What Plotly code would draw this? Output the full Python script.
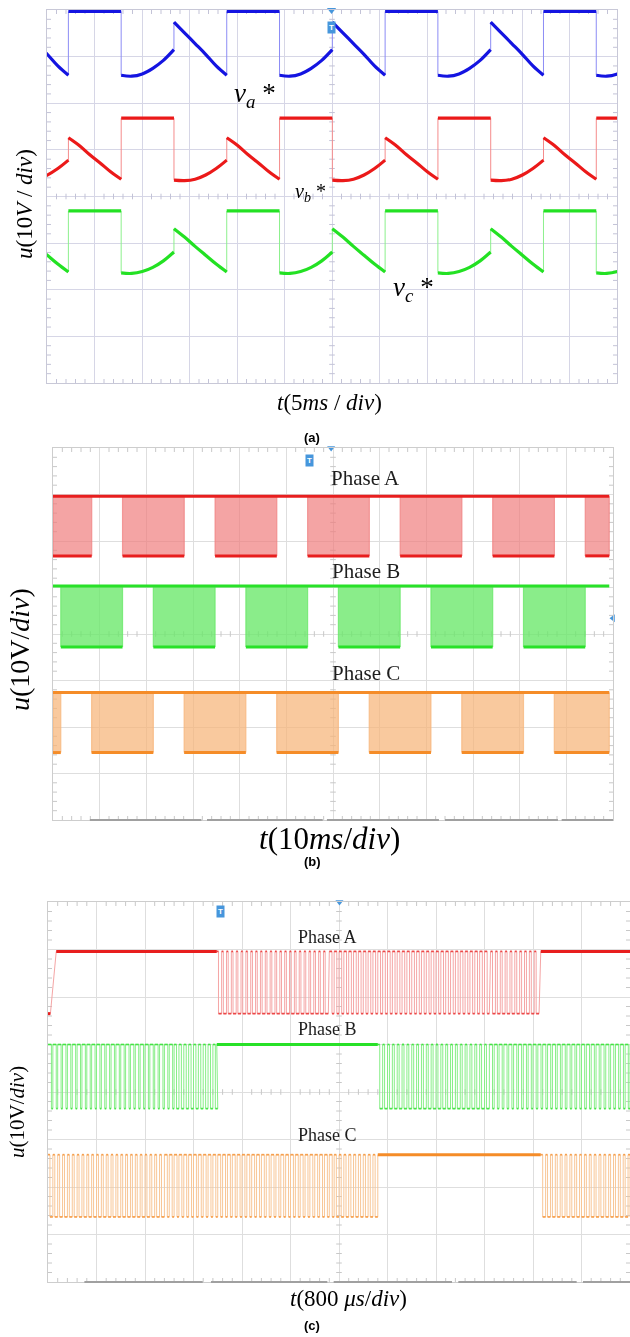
import plotly.graph_objects as go

W, H = 630, 1337
SERIF = "Liberation Serif, Times New Roman, serif"
SANS = "Liberation Sans, Arial, sans-serif"
TAG_BLUE = "rgb(70,150,220)"

# ---------------- (a) reference voltages, 5 ms/div ----------------
A_PERIOD_MS = 16.67
A_TOP_START_MS = [2.25, 7.81, 2.25]          # start of flat-top segment
A_TOP_LEVEL = [7.97, 5.68, 3.69]             # div
A_U = [0.0, 0.2, 0.4, 0.6, 0.8, 1.0]         # position inside a 120° segment
A_RISE = [[-1.37, -1.39, -1.34, -1.22, -1.05, -0.82],
          [-1.33, -1.34, -1.31, -1.22, -1.08, -0.90],
          [-1.33, -1.34, -1.30, -1.21, -1.07, -0.88]]
A_DECAY = [[-0.23, -0.46, -0.69, -0.92, -1.17, -1.37],
           [-0.42, -0.58, -0.78, -0.96, -1.15, -1.31],
           [-0.38, -0.56, -0.76, -0.95, -1.14, -1.31]]
A_COLORS = ["rgb(20,20,225)", "rgb(235,25,25)", "rgb(35,225,35)"]
A_EDGE = ["rgb(140,140,245)", "rgb(245,140,140)", "rgb(140,240,140)"]
A_LABELS = ["<i>v</i><sub><i>a</i></sub> *", "<i>v</i><sub><i>b</i></sub> *",
            "<i>v</i><sub><i>c</i></sub> *"]
A_LABEL_X_MS = [21.9, 27.7, 38.55]
A_LABEL_Y = [6.18, 4.09, 2.01]
A_LABEL_SIZE = [27, 20, 27]
A_TAGS = ["1", "2", "3"]
A_TAG_Y = [5.12, 3.13, 1.10]

# ---------------- (b) gate signals, 10 ms/div ----------------
B_PERIOD_MS = 19.83
B_GAP_START_MS = [8.3, 14.9, 21.5]
B_GAP_LEN_MS = 6.6
B_END_MS = 119.2
B_TOP = [6.96, 5.03, 2.74]
B_BOTTOM = [5.68, 3.72, 1.45]
B_LINE = ["rgb(232,30,30)", "rgb(40,225,40)", "rgb(245,140,40)"]
B_FILL = ["rgba(240,125,125,0.70)", "rgba(105,232,105,0.78)", "rgba(246,180,120,0.72)"]
B_PHASES = ["Phase A", "Phase B", "Phase C"]
B_PHASE_Y = [7.35, 5.35, 3.16]
B_TAGS = ["2", "3", "4"]
B_BAR = [(0.79, 3.18), (3.30, 5.78), (5.87, 8.27), (8.40, 10.82), (10.90, 12.0)]

# ---------------- (c) gate signals, 800 us/div ----------------
C_CARRIER_US = 80
C_END_US = 9700
C_TOP = [6.96, 5.00, 2.68]
C_BOTTOM = [5.65, 3.65, 1.37]
C_FLAT = [[(136, 2784), (8128, 9700)], [(2784, 5440)], [(5440, 8128)]]
C_PWM = [[(2784, 4640, 0.35), (4640, 7300, 0.55), (7300, 8128, 0.40)],
         [(0, 2080, 0.70), (2080, 2784, 0.50), (5440, 7280, 0.40), (7280, 9700, 0.65)],
         [(0, 1920, 0.40), (1920, 4720, 0.60), (4720, 5440, 0.45), (8128, 9700, 0.40)]]
C_RED_START_T = [0, 40, 136]
C_PALE = ["rgb(245,165,165)", "rgb(135,238,135)", "rgb(248,198,150)"]
C_PHASE_Y = [7.27, 5.33, 3.09]
C_TAGS = ["2", "3", "4"]
C_BAR = [(0.75, 3.19), (3.36, 5.76), (5.89, 8.33), (8.46, 10.90), (11.03, 12.0)]

# panel geometry (pixels) -> domains
PANELS = {
    "a": dict(x0=47, x1=617, y0=10, y1=383, xmax=60, dtick=5),
    "b": dict(x0=53, x1=613, y0=448, y1=820, xmax=120, dtick=10),
    "c": dict(x0=48, x1=630, y0=902, y1=1282, xmax=9600, dtick=800),
}
AX = {"a": ("x", "y"), "b": ("x2", "y2"), "c": ("x3", "y3")}

fig = go.Figure()


def osc_ticks(key, color):
    p = PANELS[key]
    xmax = p["xmax"]
    lx = 4.0 * xmax / (p["x1"] - p["x0"])
    ly = 4.0 * 8 / (p["y1"] - p["y0"])
    xs, ys = [], []
    for i in range(12 * 5 + 1):
        if i % 5 == 0:
            continue
        x = i * xmax / 60.0
        xs += [x, x, None, x, x, None, x, x, None]
        ys += [0, ly, None, 8, 8 - ly, None, 4 - 0.7 * ly, 4 + 0.7 * ly, None]
    for j in range(8 * 5 + 1):
        if j % 5 == 0:
            continue
        y = j * 0.2
        xs += [0, lx, None, xmax, xmax - lx, None, xmax / 2 - 0.7 * lx, xmax / 2 + 0.7 * lx, None]
        ys += [y, y, None, y, y, None, y, y, None]
    xa, ya = AX[key]
    fig.add_trace(go.Scatter(x=xs, y=ys, mode="lines", xaxis=xa, yaxis=ya,
                             line=dict(color=color, width=1), hoverinfo="skip"))


osc_ticks("a", "rgb(195,195,215)")
osc_ticks("b", "rgb(200,200,200)")
osc_ticks("c", "rgb(200,200,200)")

# ---------- panel (a) traces ----------
S = A_PERIOD_MS / 3.0
for i in range(3):
    pieces = []
    for k in range(-2, 5):
        t = A_TOP_START_MS[i] + k * A_PERIOD_MS
        top = A_TOP_LEVEL[i]
        pieces.append(([t, t + S], [top, top]))
        pieces.append(([t + S + u * S for u in A_U], [top + v for v in A_RISE[i]]))
        pieces.append(([t + 2 * S + u * S for u in A_U], [top + v for v in A_DECAY[i]]))
    xs, ys, ex, ey = [], [], [], []
    for n, (px, py) in enumerate(pieces):
        xs += px + [None]
        ys += py + [None]
        if n > 0:
            prev = pieces[n - 1]
            ex += [px[0], px[0], None]
            ey += [prev[1][-1], py[0], None]
    fig.add_trace(go.Scatter(x=ex, y=ey, mode="lines", xaxis="x", yaxis="y",
                             line=dict(color=A_EDGE[i], width=1), hoverinfo="skip"))
    fig.add_trace(go.Scatter(x=xs, y=ys, mode="lines", xaxis="x", yaxis="y",
                             line=dict(color=A_COLORS[i], width=3.2, shape="spline"),
                             hoverinfo="skip"))

# ---------- panel (b) traces ----------
def blocks(gs, gl, P, end):
    gaps = sorted([(gs + k * P, gs + k * P + gl) for k in range(-3, 10)])
    out, cur = [], 0.0
    for a, b in gaps:
        if b <= 0 or a >= end:
            continue
        if a > cur:
            out.append((cur, min(a, end)))
        cur = max(cur, b)
    if cur < end:
        out.append((cur, end))
    return out


for i in range(3):
    blk = blocks(B_GAP_START_MS[i], B_GAP_LEN_MS, B_PERIOD_MS, B_END_MS)
    top, bot = B_TOP[i], B_BOTTOM[i]
    fx, fy, bx, by, vx, vy = [], [], [], [], [], []
    for a, b in blk:
        fx += [a, a, b, b, a, None]
        fy += [bot, top, top, bot, bot, None]
        bx += [a, b, None]
        by += [bot, bot, None]
        vx += [a, a, None, b, b, None]
        vy += [bot, top, None, bot, top, None]
    fig.add_trace(go.Scatter(x=fx, y=fy, mode="lines", fill="toself", xaxis="x2", yaxis="y2",
                             fillcolor=B_FILL[i], line=dict(width=0), hoverinfo="skip"))
    fig.add_trace(go.Scatter(x=vx, y=vy, mode="lines", xaxis="x2", yaxis="y2",
                             line=dict(color=B_FILL[i], width=1.2), hoverinfo="skip"))
    fig.add_trace(go.Scatter(x=[0, B_END_MS], y=[top, top], mode="lines", xaxis="x2", yaxis="y2",
                             line=dict(color=B_LINE[i], width=3), hoverinfo="skip"))
    fig.add_trace(go.Scatter(x=bx, y=by, mode="lines", xaxis="x2", yaxis="y2",
                             line=dict(color=B_LINE[i], width=3), hoverinfo="skip"))

# ---------- panel (c) traces ----------
for i in range(3):
    top, bot = C_TOP[i], C_BOTTOM[i]
    segs = [(a, b, "flat", 1.0) for a, b in C_FLAT[i]] + [(a, b, "pwm", d) for a, b, d in C_PWM[i]]
    segs.sort()
    xs, ys = [], []
    hx, hy = [], []   # bright horizontal dots (PWM)
    fx, fy = [], []   # flat parts
    if i == 0:
        xs += C_RED_START_T
        ys += [bot, bot, top]
        fx += [C_RED_START_T[0], C_RED_START_T[1], None]
        fy += [bot, bot, None]
    for a, b, kind, d in segs:
        if kind == "flat":
            xs += [a, b]
            ys += [top, top]
            fx += [a, b, None]
            fy += [top, top, None]
        else:
            n = int(round((b - a) / C_CARRIER_US))
            for m in range(n):
                t = a + m * C_CARRIER_US
                th = t + d * C_CARRIER_US
                te = t + C_CARRIER_US
                xs += [t, th, th, te]
                ys += [top, top, bot, bot]
                hx += [t, th, None, th, te, None]
                hy += [top, top, None, bot, bot, None]
    fig.add_trace(go.Scatter(x=xs, y=ys, mode="lines", xaxis="x3", yaxis="y3",
                             line=dict(color=C_PALE[i], width=1), hoverinfo="skip"))
    fig.add_trace(go.Scatter(x=hx, y=hy, mode="lines", xaxis="x3", yaxis="y3",
                             line=dict(color=B_LINE[i], width=1.8), opacity=0.7, hoverinfo="skip"))
    fig.add_trace(go.Scatter(x=fx, y=fy, mode="lines", xaxis="x3", yaxis="y3",
                             line=dict(color=B_LINE[i], width=3), hoverinfo="skip"))

# ---------- marker glyphs (triggers) ----------
fig.add_trace(go.Scatter(x=[29.95], y=[8.0], mode="markers", xaxis="x", yaxis="y", cliponaxis=False,
                         marker=dict(symbol="triangle-down", size=8, color=TAG_BLUE), hoverinfo="skip"))
fig.add_trace(go.Scatter(x=[59.6, 120], y=[8.0, 4.34], mode="markers", xaxis="x2", yaxis="y2",
                         cliponaxis=False,
                         marker=dict(symbol=["triangle-down", "triangle-left"], size=7, color=TAG_BLUE),
                         hoverinfo="skip"))
fig.add_trace(go.Scatter(x=[4808], y=[8.0], mode="markers", xaxis="x3", yaxis="y3", cliponaxis=False,
                         marker=dict(symbol="triangle-down", size=7, color=TAG_BLUE), hoverinfo="skip"))

# ---------- layout ----------
def axis(dom, rng, dtick, gridc, linec, anchor):
    return dict(domain=dom, range=rng, dtick=dtick, tick0=0, showgrid=True, gridcolor=gridc,
                gridwidth=1, zeroline=False, showticklabels=False, ticks="", showline=True,
                linecolor=linec, linewidth=1, mirror=True, anchor=anchor, fixedrange=True)


lay = {}
for key, (xa, ya) in AX.items():
    p = PANELS[key]
    xd = [p["x0"] / W, min(p["x1"] / W, 1.0)]
    yd = [1 - p["y1"] / H, 1 - p["y0"] / H]
    gc = "rgb(214,214,230)" if key == "a" else "rgb(222,222,222)"
    lc = "rgb(200,200,215)" if key == "a" else "rgb(205,205,205)"
    xname = "xaxis" if xa == "x" else "xaxis" + xa[1:]
    yname = "yaxis" if ya == "y" else "yaxis" + ya[1:]
    lay[xname] = axis(xd, [0, p["xmax"]], p["dtick"], gc, lc, ya)
    lay[yname] = axis(yd, [0, 8], 1, gc, lc, xa)

ann = []


def paper_text(x, y, text, size, font=SERIF, angle=0, color="black"):
    ann.append(dict(xref="paper", yref="paper", x=x / W, y=1 - y / H, text=text, showarrow=False,
                    font=dict(family=font, size=size, color=color), textangle=angle,
                    xanchor="center", yanchor="middle"))


def tag(xa, ya, x, y, text, color, size=8):
    ann.append(dict(xref=xa, yref=ya, x=x, y=y, text="<b>%s</b>" % text, showarrow=False,
                    bgcolor=color, borderpad=1, font=dict(family=SANS, size=size, color="white"),
                    xanchor="center", yanchor="middle"))


# titles
paper_text(25, 204, "<i>u</i>(10<i>V</i> / <i>div</i>)", 23, angle=-90)
paper_text(329, 403, "<i>t</i>(5<i>ms</i> / <i>div</i>)", 23)
paper_text(312, 437, "<b>(a)</b>", 13, font=SANS)
paper_text(20, 650, "<i>u</i>(10V/<i>div</i>)", 28, angle=-90)
paper_text(329, 838, "<i>t</i>(10<i>ms</i>/<i>div</i>)", 31)
paper_text(312, 861, "<b>(b)</b>", 13, font=SANS)
paper_text(17, 1112, "<i>u</i>(10V/<i>div</i>)", 21, angle=-90)
paper_text(348, 1298, "<i>t</i>(800 <i>μs</i>/<i>div</i>)", 23)
paper_text(312, 1325, "<b>(c)</b>", 13, font=SANS)

# panel (a) labels and channel tags
for i in range(3):
    ann.append(dict(xref="x", yref="y", x=A_LABEL_X_MS[i], y=A_LABEL_Y[i], text=A_LABELS[i],
                    showarrow=False, font=dict(family=SERIF, size=A_LABEL_SIZE[i], color="black")))
    tag("x", "y", -0.9, A_TAG_Y[i], A_TAGS[i], A_COLORS[i])
tag("x", "y", 29.95, 7.62, "T", TAG_BLUE)

# panel (b) labels and tags
for i in range(3):
    ann.append(dict(xref="x2", yref="y2", x=67.0, y=B_PHASE_Y[i], text=B_PHASES[i], showarrow=False,
                    font=dict(family=SERIF, size=21, color="rgb(30,30,30)")))
    tag("x2", "y2", -1.5, B_BOTTOM[i], B_TAGS[i], B_LINE[i])
tag("x2", "y2", 54.9, 7.74, "T", TAG_BLUE)

# panel (c) labels and tags
for i in range(3):
    ann.append(dict(xref="x3", yref="y3", x=4608, y=C_PHASE_Y[i], text=B_PHASES[i], showarrow=False,
                    font=dict(family=SERIF, size=18, color="rgb(30,30,30)")))
    tag("x3", "y3", -160, C_BOTTOM[i], C_TAGS[i], B_LINE[i])
tag("x3", "y3", 2840, 7.8, "T", TAG_BLUE)

# oscilloscope menu bars under panels (b) and (c)
shapes = []
for key, bars in (("b", B_BAR), ("c", C_BAR)):
    p = PANELS[key]
    xa, _ = AX[key]
    yb = 1 - p["y1"] / H
    for a, b in bars:
        shapes.append(dict(type="line", xref=xa, yref="paper", x0=a * p["xmax"] / 12.0,
                           x1=b * p["xmax"] / 12.0, y0=yb, y1=yb,
                           line=dict(color="rgb(160,160,160)", width=2)))

fig.update_layout(width=W, height=H, margin=dict(l=0, r=0, t=0, b=0), paper_bgcolor="white",
                  plot_bgcolor="white", showlegend=False, annotations=ann, shapes=shapes, **lay)

fig.write_html("out.html", config={"displayModeBar": False, "staticPlot": True},
               post_script="document.body.style.margin='0';document.body.style.overflow='hidden';")
